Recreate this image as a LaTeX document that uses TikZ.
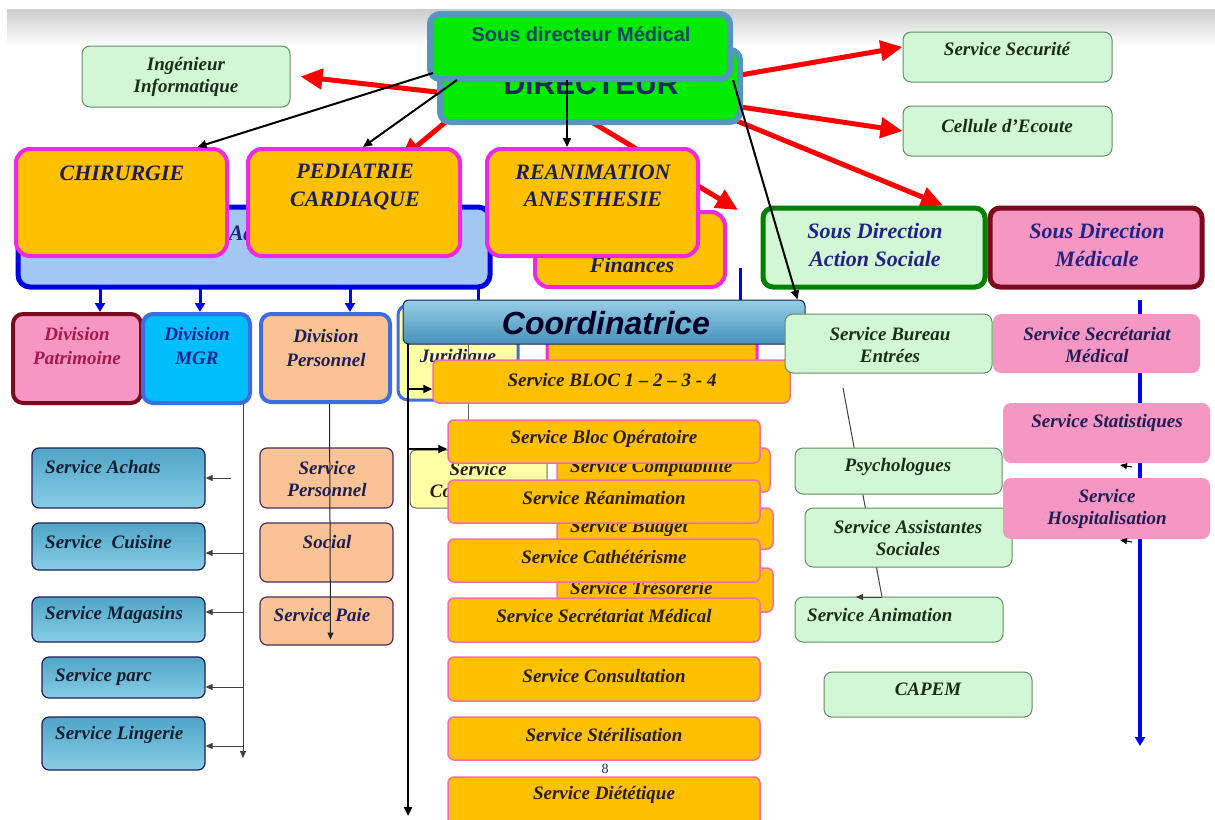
\documentclass[tikz,border=0pt]{standalone}
\usepackage{fontspec}
\setmainfont{Liberation Serif}
\setsansfont{Liberation Sans}
\usetikzlibrary{arrows.meta}
\pgfdeclarelayer{bg}
\pgfdeclarelayer{back}
\pgfsetlayers{bg,back,main}
\definecolor{gold}{RGB}{255,192,0}
\definecolor{mag}{RGB}{240,40,230}
\definecolor{pinkedge}{RGB}{245,110,170}
\definecolor{lgreen}{RGB}{210,247,213}
\definecolor{gedge}{RGB}{100,140,100}
\definecolor{pinkfill}{RGB}{246,150,195}
\definecolor{darkred}{RGB}{122,10,28}
\definecolor{peach}{RGB}{250,195,150}
\definecolor{cyanfill}{RGB}{0,190,250}
\definecolor{bluedge}{RGB}{60,110,225}
\definecolor{steel}{RGB}{85,150,190}
\definecolor{dirgreen}{RGB}{0,235,0}
\definecolor{navytext}{RGB}{30,30,85}
\definecolor{sdtext}{RGB}{35,35,130}
\definecolor{gtext}{RGB}{25,45,25}
\definecolor{svctext}{RGB}{40,30,15}
\definecolor{crimson}{RGB}{165,25,75}
\definecolor{dblue}{RGB}{25,35,140}
\definecolor{admfill}{RGB}{160,200,240}
\definecolor{lyellow}{RGB}{255,255,165}
\definecolor{mgrtop}{RGB}{80,165,200}
\definecolor{mgrbot}{RGB}{135,205,228}
\definecolor{coordtop}{RGB}{150,205,230}
\definecolor{coordbot}{RGB}{70,145,185}
\definecolor{dirtext}{RGB}{25,45,95}
\definecolor{sdmtext}{RGB}{25,70,100}
\definecolor{mgrtext}{RGB}{20,30,50}
\definecolor{pedge}{RGB}{75,45,95}
\newcommand\bx[6]{\node[#1, minimum width={(#5-#3)*1pt}, minimum height={(#6-#4)*1pt}, inner sep=0pt] (#2) at ({(#3+#5)/2},{(#4+#6)/2}) {};}
\newcommand\tx[5]{\node[#1] (#2) at (#3,#4) {#5};}
\begin{document}
\begin{tikzpicture}[x=1pt,y=-1pt,
  lbl/.style={font=\fontsize{19}{22}\selectfont\bfseries\itshape, inner sep=0pt, align=center, text=svctext},
  biglbl/.style={font=\fontsize{22}{27.5}\selectfont\bfseries\itshape, inner sep=0pt, align=center, text=navytext},
  divlbl/.style={font=\fontsize{19}{24}\selectfont\bfseries\itshape, inner sep=0pt, align=center},
  gbox/.style={draw=gedge, fill=lgreen, line width=1pt, rounded corners=8pt},
  obox/.style={draw=pinkedge, fill=gold, line width=1.5pt, rounded corners=6pt},
  bigbox/.style={draw=mag, fill=gold, line width=4pt, rounded corners=14pt},
  admbox/.style={draw=blue!90!black, fill=admfill, line width=5pt, rounded corners=12pt},
  jurbox/.style={draw=bluedge, fill=lyellow, line width=3pt, rounded corners=10pt},
  ybox/.style={draw=black!60, fill=lyellow, line width=1pt, rounded corners=6pt},
  dirbox/.style={draw=steel, fill=dirgreen, line width=6pt, rounded corners=10pt},
  asbox/.style={draw=green!50!black, fill=lgreen, line width=5pt, rounded corners=10pt},
  medbox/.style={draw=darkred, fill=pinkfill, line width=5pt, rounded corners=10pt},
  patbox/.style={draw=darkred, fill=pinkfill, line width=4pt, rounded corners=10pt},
  mgrdbox/.style={draw=bluedge, fill=cyanfill, line width=4pt, rounded corners=10pt},
  perbox/.style={draw=bluedge, fill=peach, line width=4pt, rounded corners=10pt},
  coordbox/.style={draw=navytext, top color=coordtop, bottom color=coordbot, line width=1pt, rounded corners=6pt},
  mgrbox/.style={draw=navytext, top color=mgrtop, bottom color=mgrbot, line width=1.2pt, rounded corners=7pt},
  pbox/.style={draw=pedge, fill=peach, line width=1.2pt, rounded corners=7pt},
  pkbox/.style={fill=pinkfill, rounded corners=8pt},
  redarr/.style={draw=red, line width=5pt, -{Triangle[length=22pt,width=20pt]}},
  blkarr/.style={draw=black, line width=2pt, -{Triangle[length=9pt,width=8pt]}},
  thinarr/.style={draw=black!75, line width=1pt, -{Triangle[length=7pt,width=6pt]}},
  thinline/.style={draw=black!75, line width=1pt},
  bluearr/.style={draw=blue, line width=3pt, -{Triangle[length=9pt,width=10pt]}},
  blueline/.style={draw=blue, line width=3pt}
]
\useasboundingbox (0,0) rectangle (1215,819);
\begin{pgfonlayer}{bg}
\fill[white] (0,0) rectangle (1215,819);
\shade[top color=black!20, bottom color=white] (7,9) rectangle (1215,46);
\end{pgfonlayer}

% back layer boxes
\bx{admbox}{adm}{18}{207}{490}{287}
\tx{biglbl, anchor=west, text=sdtext}{admt}{88}{233}{Sous Direction Administration}
\bx{bigbox}{fin}{535}{212}{725}{287}
\tx{biglbl}{fint}{632}{251}{Sous Direction\\Finances}
\bx{jurbox}{jur}{398}{305}{518}{400}
\tx{divlbl, text=navytext}{jurt}{458}{346}{Division\\Juridique}
\bx{bigbox, line width=3pt}{findiv}{547}{305}{757}{385}
\bx{ybox}{sco}{410}{450}{547}{508}
\tx{lbl}{scot}{478}{480}{Service\\Contentieux}
\bx{obox}{compta}{557}{448}{770}{492}
\tx{lbl, anchor=west}{comptat}{570}{468}{Service Comptabilité}
\bx{obox}{budget}{557}{508}{773}{549}
\tx{lbl, anchor=west}{budgett}{570}{528}{Service Budget}
\bx{obox}{treso}{557}{568}{773}{612}
\tx{lbl, anchor=west}{tresot}{570}{588}{Service Trésorerie}

% big service boxes
\bx{bigbox}{chir}{16}{149}{227}{256}
\tx{biglbl}{chirt}{122}{173}{CHIRURGIE}
\bx{bigbox}{pedi}{248}{149}{460}{256}
\tx{biglbl}{pedit}{355}{187}{PEDIATRIE\\CARDIAQUE}
\bx{bigbox}{rea}{487}{149}{698}{256}
\tx{biglbl}{reat}{593}{186}{REANIMATION\\ANESTHESIE}

% direction
\bx{dirbox}{dir}{440}{50}{740}{122}
\node[font=\fontsize{30}{30}\selectfont\sffamily\bfseries, text=dirtext, anchor=base, inner sep=0pt] (dirt) at (591,94) {DIRECTEUR};
\bx{dirbox}{sdm}{430}{14}{730}{79}
\node[font=\fontsize{20}{22}\selectfont\sffamily\bfseries, text=sdmtext, inner sep=0pt] (sdmt) at (581,34) {Sous directeur Médical};

% top right / left small boxes
\bx{gbox}{ing}{82}{46}{290}{107}
\tx{lbl, text=gtext}{ingt}{186}{77}{Ingénieur\\Informatique}
\bx{gbox}{secu}{903}{32}{1112}{82}
\tx{lbl, text=gtext}{secut}{1007}{49}{Service Securité}
\bx{gbox}{cell}{903}{106}{1112}{156}
\tx{lbl, text=gtext}{cellt}{1007}{126}{Cellule d’Ecoute}

% sous directions
\bx{asbox}{sdas}{763}{208}{985}{287}
\tx{biglbl, text=sdtext}{sdast}{875}{245}{Sous Direction\\Action Sociale}
\bx{medbox}{sdmed}{990}{208}{1202}{287}
\tx{biglbl, text=sdtext}{sdmedt}{1097}{245}{Sous Direction\\Médicale}

% divisions
\bx{patbox}{dpat}{13}{314}{141}{403}
\tx{divlbl, text=crimson}{dpatt}{77}{346}{Division\\Patrimoine}
\bx{mgrdbox}{dmgr}{143}{314}{250}{403}
\tx{divlbl, text=dblue}{dmgrt}{197}{346}{Division\\MGR}
\bx{perbox}{dper}{261}{314}{390}{402}
\tx{divlbl, text=navytext}{dpert}{326}{348}{Division\\Personnel}

% blue arrows from administration
\coordinate (ba1) at (100,287);
\coordinate (ba2) at (200,287);
\coordinate (ba3) at (350,287);
\draw[bluearr] (ba1) -- (ba1 |- dpat.north);
\draw[bluearr] (ba2) -- (ba2 |- dmgr.north);
\draw[bluearr] (ba3) -- (ba3 |- dper.north);
\coordinate (bl1a) at (478,287); \coordinate (bl1b) at (478,310);
\coordinate (bl2a) at (740,268); \coordinate (bl2b) at (740,310);
\draw[blueline] (bl1a) -- (bl1b);
\draw[blueline] (bl2a) -- (bl2b);
\coordinate (jl0) at (468,345); \coordinate (jl1) at (468,450);
\draw[black!60, line width=1pt] (jl0) -- (jl1);

% coordinatrice
\bx{coordbox}{coord}{403}{300}{805}{344}
\node[font=\fontsize{32}{34}\selectfont\sffamily\bfseries\itshape, text=black!85!blue, inner sep=0pt] (coordt) at (606,323) {Coordinatrice};

% orange services
\bx{obox}{bloc}{433}{360}{790}{403}
\tx{lbl}{bloct}{612}{380}{Service BLOC 1 – 2 – 3 - 4}
\bx{obox}{blocop}{448}{420}{760}{463}
\tx{lbl}{blocopt}{604}{439}{Service Bloc Opératoire}
\bx{obox}{srea}{448}{480}{760}{523}
\tx{lbl}{sreat}{604}{498}{Service Réanimation}
\bx{obox}{scath}{448}{539}{760}{582}
\tx{lbl}{scatht}{604}{557}{Service Cathétérisme}
\bx{obox}{ssec}{448}{598}{760}{642}
\tx{lbl}{ssect}{604}{616}{Service Secrétariat Médical}
\bx{obox}{scons}{448}{657}{760}{701}
\tx{lbl}{sconst}{604}{676}{Service Consultation}
\bx{obox}{ster}{448}{717}{760}{760}
\tx{lbl}{stert}{604}{735}{Service Stérilisation}
\bx{obox}{sdiet}{448}{777}{760}{826}
\tx{lbl}{sdiett}{604}{795}{Service Diététique}
\node[font=\fontsize{14}{14}\selectfont, text=navytext, inner sep=0pt] (pg) at (605,769) {8};

% coordinatrice line
\coordinate (cv0) at (408,344);
\coordinate (cv1) at (408,816);
\draw[blkarr, line width=2.5pt] (cv0) -- (cv1);
\coordinate (cb1) at (408,389);
\coordinate (cb2) at (408,449);
\draw[blkarr] (cb1) -- (cb1 -| bloc.west);
\draw[blkarr] (cb2) -- (cb2 -| blocop.west);

% black arrows from sous directeur
\coordinate (k1) at (433,73);
\coordinate (k2) at (457,80);
\coordinate (k3) at (567,80);
\coordinate (k4) at (733,80);
\draw[blkarr] (k1) -- ([xshift=76pt]chir.north);
\draw[blkarr] (k2) -- ([xshift=9pt]pedi.north);
\draw[blkarr] (k3) -- (k3 |- rea.north);
\draw[blkarr] (k4) -- ([xshift=-8pt]coord.north east);

% MGR services
\coordinate (ml0) at (243,404);
\coordinate (ml1) at (243,758);
\draw[thinarr] (ml0) -- (ml1);
\bx{mgrbox}{sach}{32}{448}{205}{508}
\tx{lbl, anchor=west, text=mgrtext}{sacht}{45}{467}{Service Achats}
\bx{mgrbox}{scui}{32}{523}{205}{570}
\tx{lbl, anchor=west, text=mgrtext}{scuit}{45}{542}{Service~~Cuisine}
\bx{mgrbox}{smag}{32}{597}{205}{642}
\tx{lbl, anchor=west, text=mgrtext}{smagt}{45}{615}{Service Magasins}
\bx{mgrbox}{sparc}{42}{657}{205}{698}
\tx{lbl, anchor=west, text=mgrtext}{sparct}{55}{677}{Service parc}
\bx{mgrbox}{sling}{42}{717}{205}{770}
\tx{lbl, anchor=west, text=mgrtext}{slingt}{55}{735}{Service Lingerie}
\coordinate (ma) at (231,478);
\coordinate (mc) at (243,553);
\coordinate (mm) at (243,612);
\coordinate (mp) at (243,687);
\coordinate (mli) at (243,746);
\draw[thinarr] (ma) -- (ma -| sach.east);
\draw[thinarr] (mc) -- (mc -| scui.east);
\draw[thinarr] (mm) -- (mm -| smag.east);
\draw[thinarr] (mp) -- (mp -| sparc.east);
\draw[thinarr] (mli) -- (mli -| sling.east);

% personnel services
\bx{pbox}{sper}{260}{448}{393}{508}
\tx{lbl, text=navytext}{spert}{327}{479}{Service\\Personnel}
\bx{pbox}{ssoc}{260}{523}{393}{582}
\tx{lbl, text=navytext}{ssoct}{327}{542}{Social}
\bx{pbox}{spaie}{260}{597}{393}{645}
\tx{lbl, text=navytext}{spaiet}{322}{615}{Service Paie}
\draw[thinarr, draw=black!85] ([xshift=4pt]dper.south) -- ([xshift=4pt,yshift=6pt]spaie.south);

% action sociale column
\coordinate (as0) at (843,388);
\coordinate (as1) at (882,597);
\draw[thinline] (as0) -- (as1);
\bx{gbox}{sbur}{785}{314}{992}{373}
\tx{lbl, text=gtext}{sburt}{890}{345}{Service Bureau\\Entrées}
\bx{gbox}{psy}{795}{448}{1002}{494}
\tx{lbl, text=gtext}{psyt}{898}{467}{Psychologues}
\bx{gbox}{sass}{805}{508}{1012}{567}
\tx{lbl, text=gtext}{sasst}{908}{538}{Service Assistantes\\Sociales}
\bx{gbox}{sanim}{795}{597}{1003}{642}
\tx{lbl, anchor=west, text=gtext}{sanimt}{807}{615}{Service Animation}
\coordinate (as2) at (856,597);
\draw[thinarr] (as1) -- (as2);
\bx{gbox}{capem}{824}{672}{1032}{717}
\tx{lbl, text=gtext}{capemt}{928}{689}{CAPEM}

% medicale column
\coordinate (mb0) at (1140,300);
\coordinate (mb1) at (1140,746);
\draw[bluearr, line width=4pt] (mb0) -- (mb1);
\bx{pkbox}{psec}{993}{314}{1200}{373}
\tx{lbl, text=navytext}{psect}{1097}{345}{Service Secrétariat\\Médical}
\bx{pkbox}{pstat}{1003}{403}{1210}{463}
\tx{lbl, text=navytext}{pstatt}{1107}{423}{Service Statistiques}
\bx{pkbox}{phosp}{1003}{478}{1210}{539}
\tx{lbl, text=navytext}{phospt}{1107}{509}{Service\\Hospitalisation}
\coordinate (pa1) at (1132,467);
\coordinate (pa2) at (1132,542);
\draw[thinarr, draw=black] (pa1) -- ([xshift=-12pt,yshift=2pt]pa1);
\draw[thinarr, draw=black] (pa2) -- ([xshift=-12pt,yshift=2pt]pa2);

% red arrows behind
\begin{pgfonlayer}{back}
\coordinate (r1) at (480,97);
\coordinate (r2) at (700,82);
\coordinate (r3) at (700,101);
\coordinate (r4) at (720,114);
\coordinate (r5) at (460,110);
\coordinate (r5e) at (400,160);
\coordinate (r6) at (580,115);
\draw[redarr] (r1) -- ([xshift=10pt]ing.east);
\draw[redarr] (r2) -- ([yshift=10pt]secu.west);
\draw[redarr] (r3) -- (cell.west);
\draw[redarr] (r4) -- ([xshift=69pt]sdas.north);
\draw[redarr] (r5) -- (r5e);
\draw[redarr] (r6) -- ([xshift=11pt]fin.north east);
\end{pgfonlayer}
\end{tikzpicture}
\end{document}
